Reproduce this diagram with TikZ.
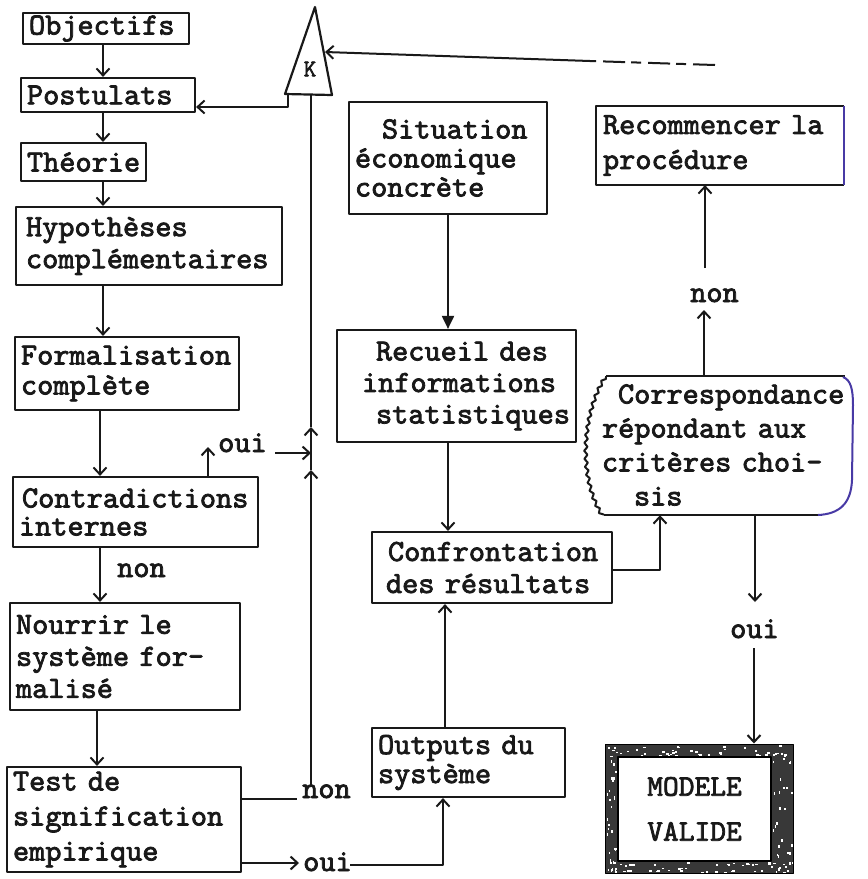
\documentclass[tikz,border=0pt]{standalone}
\usepackage{fontspec}
\newfontfamily\tw{lmmono10-regular}[Extension=.otf, FakeBold=2.5]
\usetikzlibrary{arrows.meta,decorations.pathmorphing,calc}
\definecolor{penblue}{RGB}{72,58,165}
\definecolor{ink}{RGB}{25,25,25}
\newcommand\lin[1]{\mbox{#1}}
\begin{document}
\begin{tikzpicture}[x=1pt,y=-1pt,line join=round,
  lh/.style={font=\tw\fontsize{30.8}{#1}\selectfont, text=ink},
  box/.style={draw=ink, line width=2.2pt, inner xsep=6pt, inner ysep=0pt, align=left, lh=32},
  lab/.style={lh=32, inner sep=0pt, anchor=base west},
  conn/.style={draw=ink, line width=2pt},
  arr/.style={conn, -{Straight Barb[length=7pt,width=13pt]}},
]
\fill[white] (0,0) rectangle (868,879);
\useasboundingbox (0,0) rectangle (868,879);

% ---------- left column ----------
\node[box, minimum width=166pt, minimum height=31pt, text width=154pt] (obj) at (106,28.5) {\lin{Objectifs}};
\node[box, minimum width=174pt, minimum height=34pt, text width=162pt] (post) at (108,95) {\lin{Postulats}};
\node[box, minimum width=125pt, minimum height=38pt, text width=113pt] (theo) at (83.5,162) {\lin{Théorie}};
\node[box, minimum width=266pt, minimum height=78pt, text width=254pt] (hyp) at (149,246)
  {\lin{\hspace*{4pt}Hypothèses}\\\lin{\hspace*{4pt}complémentaires}};
\node[box, lh=30, minimum width=224pt, minimum height=73pt, text width=212pt] (form) at (127,373.5)
  {\lin{Formalisation}\\\lin{complète}};
\node[box, lh=28, minimum width=245pt, minimum height=70pt, text width=233pt] (contr) at (135.5,512)
  {\lin{\hspace*{3pt}Contradictions}\\\lin{internes}};
\node[box, minimum width=230pt, minimum height=107pt, text width=218pt] (nour) at (125,656.5)
  {\lin{Nourrir le}\\\lin{système for-}\\\lin{malisé}};
\node[box, lh=35, minimum width=234pt, minimum height=105pt, text width=222pt] (test) at (124,819.5)
  {\lin{Test de}\\\lin{signification}\\\lin{empirique}};

% ---------- K ----------
\coordinate (Ka) at (315,7);
\coordinate (Kr) at (332,95);
\coordinate (Kl) at (285,94);
\draw[conn, line width=2.2pt] (Ka) -- (Kr) -- (Kl) -- cycle;
\node[font=\tw\fontsize{24}{26}\selectfont, text=ink, inner sep=0pt] (K) at (310,69) {K};

% ---------- middle column ----------
\node[box, lh=29, minimum width=198pt, minimum height=112pt, text width=186pt] (sit) at (448,158)
  {\lin{\hspace*{27pt}Situation}\\\lin{économique}\\\lin{concrète}};
\node[box, lh=31.5, minimum width=239pt, minimum height=112pt, text width=227pt] (rec) at (456.5,386)
  {\lin{\hspace*{33pt}Recueil des}\\\lin{\hspace*{19pt}informations}\\\lin{\hspace*{33pt}statistiques}};
\node[box, minimum width=240pt, minimum height=71pt, text width=228pt] (conf) at (492,567.5)
  {\lin{\hspace*{10pt}Confrontation}\\\lin{\hspace*{8pt}des résultats}};
\node[box, lh=29, minimum width=193pt, minimum height=69pt, text width=181pt] (out) at (468.5,762.5)
  {\lin{Outputs du}\\\lin{système}};

% ---------- right column ----------
\node[box, draw=none, lh=35, minimum width=246pt, minimum height=77pt, text width=234pt] (recom) at (720,145.5)
  {\lin{Recommencer la}\\\lin{procédure}};
\draw[line width=2.2pt, ink] (recom.north east) -- (recom.north west) -- (recom.south west) -- (recom.south east);
\draw[line width=2.4pt, penblue] (recom.north east) -- (recom.south east);

\node[lh=34, inner xsep=6pt, inner ysep=0pt, align=left, text width=255pt,
      minimum width=267pt, minimum height=140pt] (corr) at (716.5,445)
  {\lin{\hspace*{29pt}Correspondance}\\\lin{\hspace*{13pt}répondant aux}\\\lin{\hspace*{13pt}critères choi-}\\\lin{\hspace*{45pt}sis}};
\draw[line width=2.2pt, ink] (606,376) -- (845,376);
\draw[line width=2.2pt, ink] (604,515) -- (822,515);
\draw[line width=2pt, penblue] (843,377) .. controls (851,380) and (853,390) .. (853,405)
  -- (852,480) .. controls (851,505) and (838,514) .. (818,515);
\draw[line width=2pt, ink, decorate, decoration={snake, segment length=8pt, amplitude=1.6pt}]
  (606,376) .. controls (584,410) and (578,475) .. (604,515);

\node[draw=black, fill=black!78, line width=1pt, minimum width=188pt, minimum height=129pt] (modelframe) at (699,808.5) {};
\pgfmathsetseed{12}
\foreach \i in {1,...,45} {
  \pgfmathsetmacro\px{606+185*rnd}\pgfmathsetmacro\py{745+11*rnd}
  \fill[white] (\px,\py) rectangle ++(2.5,1.5);
  \pgfmathsetmacro\px{606+185*rnd}\pgfmathsetmacro\py{862+10*rnd}
  \fill[white] (\px,\py) rectangle ++(2.5,1.5);
}
\foreach \i in {1,...,30} {
  \pgfmathsetmacro\px{606+11*rnd}\pgfmathsetmacro\py{745+127*rnd}
  \fill[white] (\px,\py) rectangle ++(1.5,2.5);
  \pgfmathsetmacro\px{772+20*rnd}\pgfmathsetmacro\py{745+127*rnd}
  \fill[white] (\px,\py) rectangle ++(1.5,2.5);
}
\node[draw=black, fill=white, line width=1.2pt, minimum width=153pt, minimum height=104pt,
      align=center, inner sep=0pt, font=\tw\fontsize{30}{45}\selectfont, text=ink] (model) at (694.5,809)
  {MODELE\\VALIDE};

% ---------- labels ----------
\node[lab] (nonL) at (117,577) {non};
\node[lab] (ouiA) at (218,452) {oui};
\node[lab] (nonB) at (302,798) {non};
\node[lab] (ouiB) at (303,871) {oui};
\node[lab] (nonR) at (690,302) {non};
\node[lab] (ouiR) at (730,638) {oui};

% ---------- connectors, left column ----------
\coordinate (xa) at (103,0);
\coordinate (xb) at (100,0);
\coordinate (xc) at (97,0);
\draw[arr] (obj.south -| xa) -- (post.north -| xa);
\draw[arr] (post.south -| xa) -- (theo.north -| xa);
\draw[arr] (theo.south -| xa) -- (hyp.north -| xa);
\draw[arr] (hyp.south -| xa) -- (form.north -| xa);
\draw[arr] (form.south -| xb) -- (contr.north -| xb);
\draw[arr] (contr.south -| xb) -- (nour.north -| xb);
\draw[arr] (nour.south -| xc) -- (test.north -| xc);

% contradictions -> oui -> vertical line
\coordinate (oa) at (208,447);
\draw[arr] (contr.north -| oa) -- (oa);
\coordinate (oa1) at (275,453);
\coordinate (oa2) at (311,453);
\draw[arr] (oa1) -- (oa2);

% vertical line up to K
\coordinate (vtop) at (311,95);
\coordinate (vbot) at (311,787);
\coordinate (v1) at (311,470);
\coordinate (v2) at (311,427);
\draw[arr] (vbot) -- (v1);
\draw[arr] (v1) -- (v2);
\draw[conn] (v2) -- (vtop);

% K -> Postulats
\coordinate (kb) at (288,94);
\coordinate (kc) at (288,107);
\draw[arr] (kb) -- (kc) -- (post.east |- kc);

% incoming line to K
\coordinate (kin) at (325,52);
\coordinate (rmid) at (590,61);
\coordinate (rend) at (715,65);
\draw[conn, dash pattern=on 22pt off 7pt on 10pt off 6pt] (rend) -- (rmid);
\draw[arr] (rmid) -- (kin);

% test -> non / oui
\coordinate (nb) at (297,799);
\draw[conn] (test.east |- nb) -- (nb);
\coordinate (ob) at (299,863);
\draw[arr] (test.east |- ob) -- (ob);
\coordinate (ob2) at (350,865);
\coordinate (ob3) at (443,865);
\draw[arr] (ob2) -- (ob3) -- (out.south -| ob3);

% ---------- connectors, middle ----------
\coordinate (xm) at (448,0);
\coordinate (xn) at (445,0);
\draw[line width=2pt, draw=ink, -{Triangle[length=13pt,width=12pt]}] (sit.south -| xm) -- (rec.north -| xm);
\draw[arr] (rec.south -| xm) -- (conf.north -| xm);
\draw[arr] (out.north -| xn) -- (conf.south -| xn);
\coordinate (cc) at (660,570);
\draw[arr] (conf.east |- cc) -- (cc) -- (cc |- corr.south);

% ---------- connectors, right ----------
\coordinate (r1) at (704,310);
\coordinate (r2) at (705,268);
\draw[arr] (corr.north -| r1) -- (r1);
\draw[arr] (r2) -- (recom.south -| r2);
\coordinate (d1) at (755,602);
\coordinate (d2) at (754,648);
\draw[arr] (corr.south -| d1) -- (d1);
\draw[arr] (d2) -- (modelframe.north -| d2);
\end{tikzpicture}
\end{document}
